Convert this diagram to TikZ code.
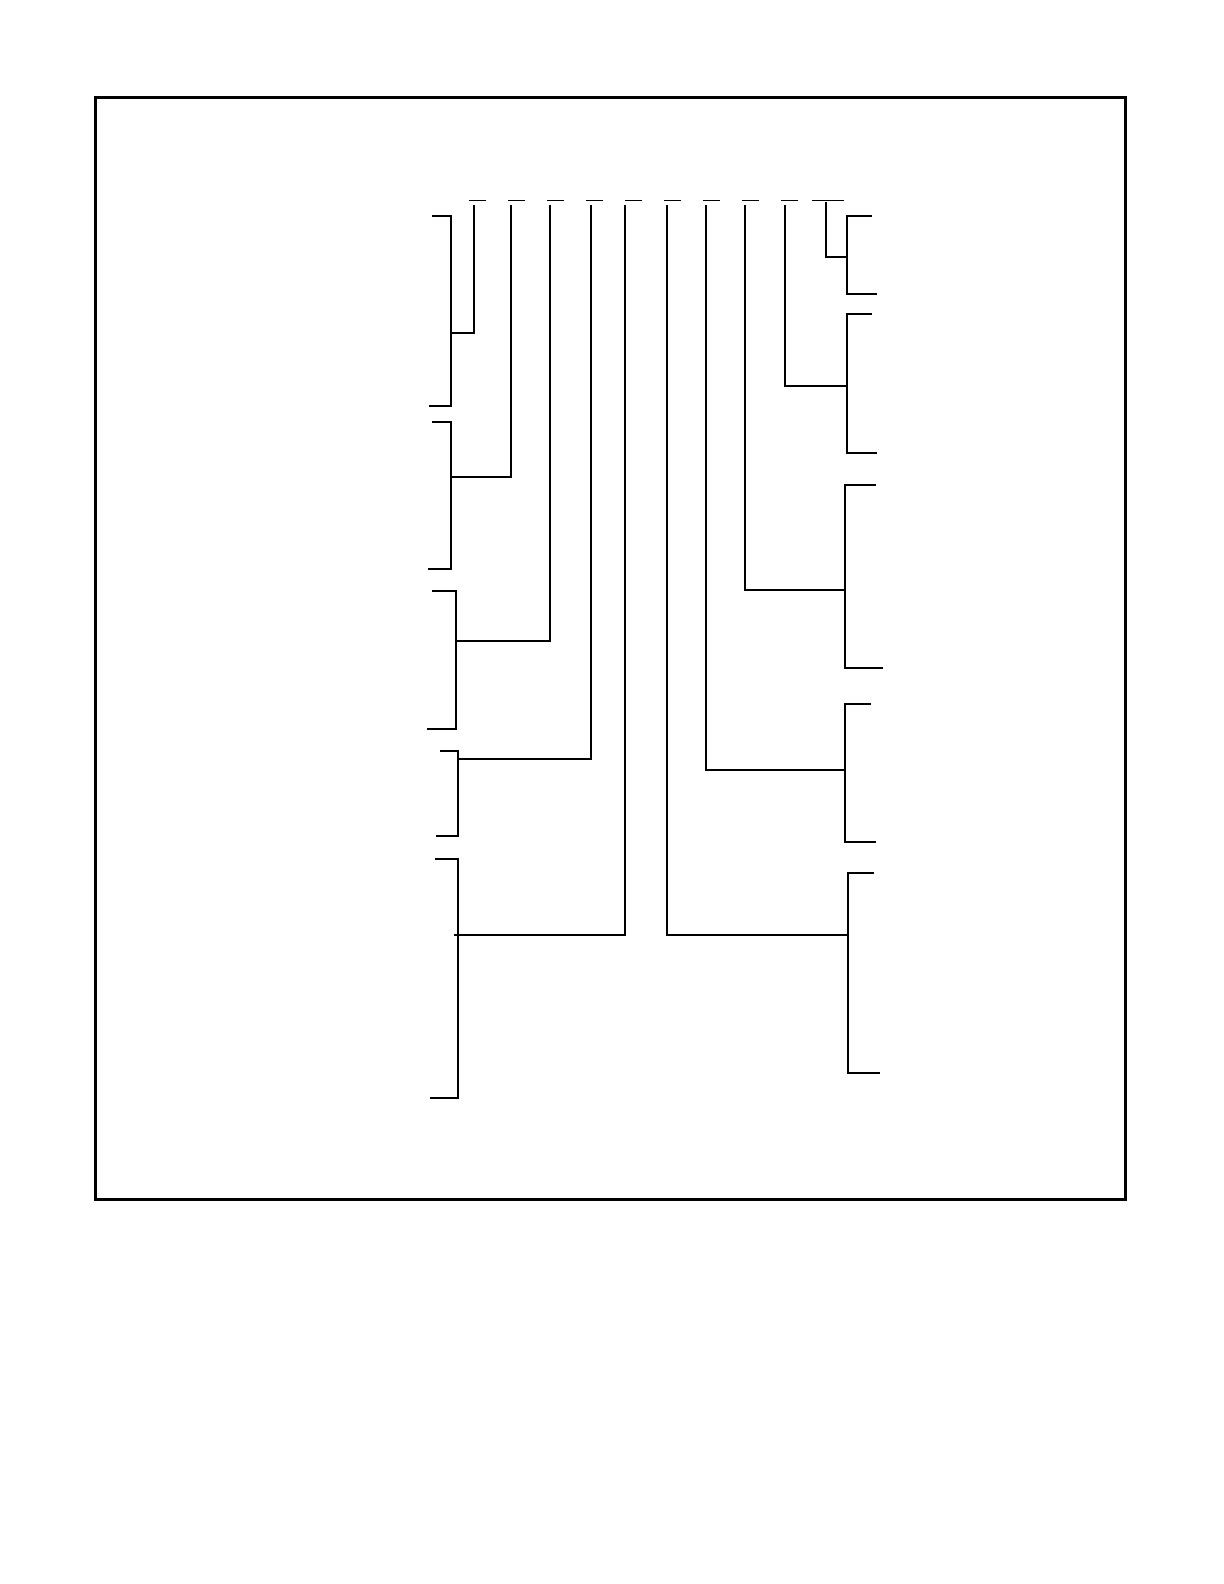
\documentclass[tikz,border=0pt]{standalone}
\usetikzlibrary{positioning}

\begin{document}
\begin{tikzpicture}
[x=0.5bp,y=-0.5bp,line cap=rect,
 link/.style={draw,line width=1bp},
 frame/.style={draw,line width=1.5bp},
 tick/.style={draw,line width=0.75bp}]
\useasboundingbox (0,0) rectangle (1224,1584);
\draw[frame] (95,97) rectangle (1125,1199);
% tops of the stems
\coordinate (s1) at (474,206);
\coordinate (s2) at (511,206);
\coordinate (s3) at (550,206);
\coordinate (s4) at (591,206);
\coordinate (s5) at (625,206);
\coordinate (s6) at (667,206);
\coordinate (s7) at (706,206);
\coordinate (s8) at (745,206);
\coordinate (s9) at (785,206);
\coordinate (s10) at (826,203);
\foreach \i in {0,...,8}
  \draw[tick] (470+39*\i,200.5) -- ++(15,0);
\draw[tick] (813,200.5) -- (843,200.5);
% left brackets
\coordinate (la1) at (433,216);  \coordinate (lb1) at (430,406);
\coordinate (la2) at (433,422);  \coordinate (lb2) at (429,569);
\coordinate (la3) at (433,591);  \coordinate (lb3) at (428,729);
\coordinate (la4) at (441,751);  \coordinate (lb4) at (437,836);
\coordinate (la5) at (436,859);  \coordinate (lb5) at (431,1098);
\draw[link] (la1) -- ++(18,0) |- (lb1);
\draw[link] (la2) -- ++(18,0) |- (lb2);
\draw[link] (la3) -- ++(23,0) |- (lb3);
\draw[link] (la4) -- ++(17,0) |- (lb4);
\draw[link] (la5) -- ++(22,0) |- (lb5);
\coordinate (j1) at (451,333);
\coordinate (j2) at (452,477);
\coordinate (j3) at (457,641);
\coordinate (j4) at (459,759);
\coordinate (j5) at (455,935);
\draw[link] (s1) |- (j1);
\draw[link] (s2) |- (j2);
\draw[link] (s3) |- (j3);
\draw[link] (s4) |- (j4);
\draw[link] (s5) |- (j5);
% right brackets
\coordinate (ra1) at (871,216);  \coordinate (rb1) at (876,294);
\coordinate (ra2) at (871,314);  \coordinate (rb2) at (876,453);
\coordinate (ra3) at (875,485);  \coordinate (rb3) at (882,668);
\coordinate (ra4) at (870,704);  \coordinate (rb4) at (875,842);
\coordinate (ra5) at (873,873);  \coordinate (rb5) at (879,1073);
\draw[link] (ra1) -- ++(-24,0) |- (rb1);
\draw[link] (ra2) -- ++(-24,0) |- (rb2);
\draw[link] (ra3) -- ++(-30,0) |- (rb3);
\draw[link] (ra4) -- ++(-25,0) |- (rb4);
\draw[link] (ra5) -- ++(-25,0) |- (rb5);
\coordinate (k1) at (847,257);
\coordinate (k2) at (847,386);
\coordinate (k3) at (845,590);
\coordinate (k4) at (845,770);
\coordinate (k5) at (848,935);
\draw[link] (s10) |- (k1);
\draw[link] (s9) |- (k2);
\draw[link] (s8) |- (k3);
\draw[link] (s7) |- (k4);
\draw[link] (s6) |- (k5);
\end{tikzpicture}
\end{document}
